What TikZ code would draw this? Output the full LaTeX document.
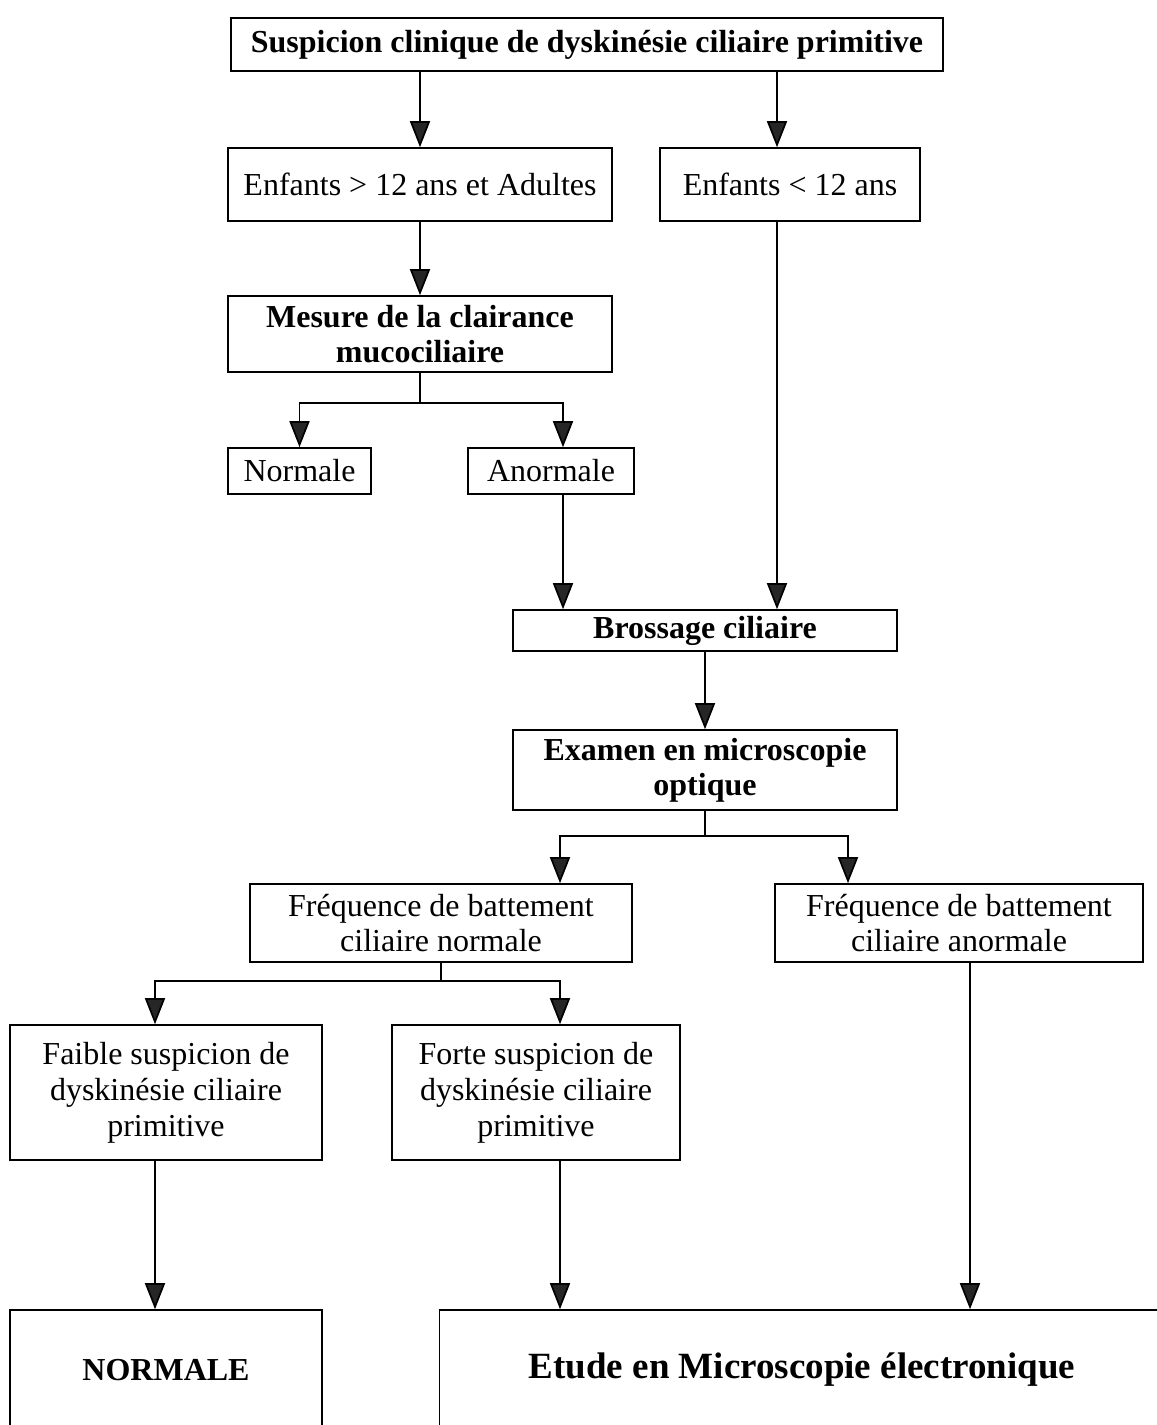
\documentclass[tikz,border=0pt]{standalone}
\usepackage{fontspec}
\setmainfont{Liberation Serif}
\usetikzlibrary{arrows.meta,calc}
\begin{document}
\begin{tikzpicture}[x=0.5pt,y=-0.5pt,
  box/.style={draw,line width=0.8pt,rectangle,inner sep=0pt,align=center,
    font=\fontsize{16}{17.5}\selectfont},
  bbox/.style={box,font=\fontsize{16}{17.5}\selectfont\bfseries},
  arr/.style={line width=0.85pt,-{Triangle[width=10pt,length=13pt,fill=black!85]}},
  ln/.style={line width=0.85pt}]
\clip (0,0) rectangle (1157,1425);
\fill[white] (0,0) rectangle (1157,1425);
% nodes
\node[bbox,minimum width=356pt,minimum height=26.5pt] (top) at (587,44.5) {Suspicion clinique de dyskinésie ciliaire primitive};
\node[box,minimum width=192pt,minimum height=36.5pt] (enfp) at (420,184.5) {Enfants > 12 ans et Adultes};
\node[box,minimum width=130pt,minimum height=36.5pt] (enfm) at (790,184.5) {Enfants < 12 ans};
\node[bbox,minimum width=192pt,minimum height=38pt] (mesure) at (420,334) {Mesure de la clairance\\mucociliaire};
\node[box,minimum width=71.5pt,minimum height=23pt] (normale) at (299.5,471) {Normale};
\node[box,minimum width=83pt,minimum height=23pt] (anormale) at (551,471) {Anormale};
\node[bbox,minimum width=192pt,minimum height=20.5pt] (brossage) at (705,630.5) {Brossage ciliaire};
\node[bbox,minimum width=192pt,minimum height=40pt] (examen) at (705,770) {Examen en microscopie\\optique};
\node[box,minimum width=191pt,minimum height=39pt] (freqn) at (441,923) {Fréquence de battement\\ciliaire normale};
\node[box,minimum width=184pt,minimum height=39pt] (freqa) at (959,923) {Fréquence de battement\\ciliaire anormale};
\node[box,font=\fontsize{16}{18}\selectfont,minimum width=156pt,minimum height=67.5pt] (faible) at (166,1092.5) {Faible suspicion de\\dyskinésie ciliaire\\primitive};
\node[box,font=\fontsize{16}{18}\selectfont,minimum width=144pt,minimum height=67.5pt] (forte) at (536,1092.5) {Forte suspicion de\\dyskinésie ciliaire\\primitive};
\node[box,font=\fontsize{16}{18}\selectfont\bfseries,minimum width=156pt,minimum height=60pt] (normbig) at (166,1370) {NORMALE};
\node[box,font=\fontsize{18.5}{21}\selectfont\bfseries,minimum width=362.5pt,minimum height=60pt] (etude) at (802,1370) {Etude en Microscopie électronique};
% connectors
\coordinate (c1) at ($(enfm.north)+(-13,0)$);
\draw[arr] (top.south -| enfp.north) -- (enfp.north);
\draw[arr] (top.south -| c1) -- (c1);
\draw[arr] (enfp.south) -- (enfp.south |- mesure.north);
\coordinate (m1) at ($(mesure.south)+(0,30)$);
\coordinate (an) at ($(anormale.north)+(12,0)$);
\draw[ln] (mesure.south) -- (m1);
\draw[arr] (m1) -| (normale.north);
\draw[arr] (m1) -| (an);
\coordinate (an2) at ($(anormale.south)+(12,0)$);
\draw[arr] (an2) -- (an2 |- brossage.north);
\coordinate (em) at ($(enfm.south)+(-13,0)$);
\draw[arr] (em) -- (em |- brossage.north);
\draw[arr] (brossage.south) -- (examen.north);
\coordinate (e1) at ($(examen.south)+(0,25)$);
\coordinate (fn) at ($(freqn.north)+(119,0)$);
\coordinate (fa) at ($(freqa.north)+(-111,0)$);
\draw[ln] (examen.south) -- (e1);
\draw[arr] (e1) -| (fn);
\draw[arr] (e1) -| (fa);
\coordinate (f1) at ($(freqn.south)+(0,18)$);
\coordinate (fb) at ($(faible.north)+(-11,0)$);
\coordinate (fo) at ($(forte.north)+(24,0)$);
\draw[ln] (freqn.south) -- (f1);
\draw[arr] (f1) -| (fb);
\draw[arr] (f1) -| (fo);
\coordinate (fb2) at ($(faible.south)+(-11,0)$);
\draw[arr] (fb2) -- (fb2 |- normbig.north);
\coordinate (fo2) at ($(forte.south)+(24,0)$);
\draw[arr] (fo2) -- (fo2 |- etude.north);
\coordinate (fa2) at ($(freqa.south)+(11,0)$);
\draw[arr] (fa2) -- (fa2 |- etude.north);
\end{tikzpicture}
\end{document}
